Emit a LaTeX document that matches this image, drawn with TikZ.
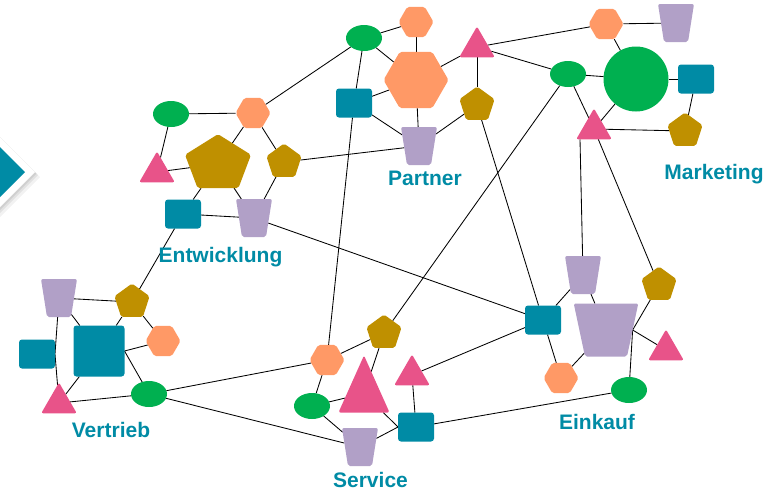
\documentclass[tikz,border=0pt]{standalone}
\usepackage{fontspec}
\setmainfont{Liberation Sans}
\usetikzlibrary{shapes.geometric,backgrounds}
\definecolor{cgreen}{RGB}{0,176,80}
\definecolor{corange}{RGB}{255,153,102}
\definecolor{cteal}{RGB}{0,139,165}
\definecolor{cpink}{RGB}{232,83,137}
\definecolor{cgold}{RGB}{191,144,0}
\definecolor{clav}{RGB}{177,160,199}
\begin{document}
\begin{tikzpicture}[x=1pt,y=-1pt,
 base/.style={inner sep=0pt, outer sep=0pt},
 ell/.style={base, ellipse, fill=cgreen, minimum width=36pt, minimum height=26pt},
 hexa/.style={base, regular polygon, regular polygon sides=6, fill=corange, minimum size=35pt, rounded corners=2pt},
 penta/.style={base, regular polygon, regular polygon sides=5, fill=cgold, minimum size=37pt, rounded corners=2pt},
 tria/.style={base, regular polygon, regular polygon sides=3, fill=cpink, minimum size=41pt, rounded corners=2pt},
 sq/.style={base, rectangle, fill=cteal, minimum width=36pt, minimum height=29pt, rounded corners=3pt},
 trap/.style={base, trapezium, shape border rotate=180, trapezium left angle=81, trapezium right angle=81, fill=clav, inner xsep=12pt, inner ysep=19pt, rounded corners=2pt},
 lbl/.style={text=cteal, font=\fontsize{21}{25}\selectfont\bfseries, anchor=base},
 con/.style={draw=black, line width=0.85pt}
]
\useasboundingbox (0,0) rectangle (776,491);
% left decoration
\begin{scope}
\clip (0,0) rectangle (776,491);
\fill[black, opacity=0.05, shift={(5,5)}] (-28,109) -- (35,172) -- (-28,235) -- (-91,172) -- cycle;
\fill[black, opacity=0.07, shift={(3,3)}] (-28,109) -- (35,172) -- (-28,235) -- (-91,172) -- cycle;
\fill[black, opacity=0.08, shift={(1.5,1.5)}] (-28,109) -- (35,172) -- (-28,235) -- (-91,172) -- cycle;
\fill[white] (-28,109) -- (35,172) -- (-28,235) -- (-91,172) -- cycle;
\fill[cteal] (-28,119) -- (25,172) -- (-28,225) -- (-81,172) -- cycle;
\end{scope}

% Entwicklung
\node[ell] (eell) at (171,114) {};
\node[hexa] (ehex) at (253,113) {};
\node[tria] (etri) at (157,172) {};
\node[penta, minimum size=69.4pt, yscale=0.86] (epb) at (218,164) {};
\node[penta] (eps) at (284,162) {};
\node[sq] (esq) at (183,214) {};
\node[trap] (etrap) at (254,218) {};
% Partner
\node[ell] (pell) at (364,38) {};
\node[hexa] (phs) at (416,22) {};
\node[hexa, minimum size=65pt] (phb) at (416,80) {};
\node[sq] (psq) at (354,103) {};
\node[tria] (ptri) at (477,47) {};
\node[penta] (ppent) at (477,105) {};
\node[trap] (ptrap) at (419,146) {};
% Marketing
\node[hexa] (mhex) at (606,24) {};
\node[trap] (mtrap) at (676,23) {};
\node[ell] (mell) at (568,74) {};
\node[base, circle, fill=cgreen, minimum size=65pt] (mcirc) at (636,79) {};
\node[sq] (msq) at (696,79) {};
\node[tria] (mtri) at (594,129) {};
\node[penta] (mpent) at (685,131) {};
% Vertrieb
\node[trap] (vtrap) at (59,298) {};
\node[penta] (vpent) at (132,302) {};
\node[sq] (vsqs) at (37,354) {};
\node[sq, minimum width=51pt, minimum height=51pt] (vsqb) at (99,351) {};
\node[hexa] (vhex) at (163,341) {};
\node[tria] (vtri) at (59,403) {};
\node[ell] (vell) at (149,394) {};
% Service
\node[penta] (spent) at (384,333) {};
\node[hexa] (shex) at (327,360) {};
\node[tria, minimum size=59pt, yscale=1.29] (stb) at (364,393.5) {};
\node[tria] (sts) at (412,375) {};
\node[ell] (sell) at (312,406) {};
\node[trap] (strap) at (360,447) {};
\node[sq] (ssq) at (416,427) {};
% Einkauf
\node[trap] (kts) at (583,275) {};
\node[penta] (kpent) at (659,285) {};
\node[sq] (ksq) at (543,320) {};
\node[trap, inner xsep=21pt, inner ysep=26.5pt, trapezium left angle=78, trapezium right angle=78] (ktb) at (606,330) {};
\node[tria] (ktri) at (666,350) {};
\node[hexa] (khex) at (561,378) {};
\node[ell] (kell) at (629,390) {};

% labels
\node[lbl] (lent) at (220.5,262) {Entwicklung};
\node[lbl] (lpar) at (425,185) {Partner};
\node[lbl] (lmar) at (714,179) {Marketing};
\node[lbl] (lver) at (111,437) {Vertrieb};
\node[lbl] (lser) at (370.5,487) {Service};
\node[lbl] (lein) at (597,429) {Einkauf};

\begin{pgfonlayer}{background}
\draw[con] (eell) -- (ehex);
\draw[con] (eell) -- (etri);
\draw[con] (ehex) -- (pell);
\draw[con] (ehex) -- (epb);
\draw[con] (ehex) -- (eps);
\draw[con] (etri) -- (epb);
\draw[con] (epb) -- (esq);
\draw[con] (epb) -- (etrap);
\draw[con] (eps) -- (etrap);
\draw[con] (eps) -- (ptrap);
\draw[con] (esq) -- (etrap);
\draw[con] (etrap) -- (ksq);
\draw[con] (esq) -- (vpent);
\draw[con] (pell) -- (phs);
\draw[con] (pell) -- (phb);
\draw[con] (pell) -- (psq);
\draw[con] (phs) -- (phb);
\draw[con] (phb) -- (psq);
\draw[con] (phb) -- (ptrap);
\draw[con] (phb) -- (ptri);
\draw[con] (psq) -- (ptrap);
\draw[con] (psq) -- (shex);
\draw[con] (ptri) -- (ppent);
\draw[con] (ptri) -- (mhex);
\draw[con] (ptri) -- (mell);
\draw[con] (ppent) -- (ptrap);
\draw[con] (ppent) -- (ksq);
\draw[con] (mell) -- (spent);
\draw[con] (mhex) -- (mtrap);
\draw[con] (mhex) -- (mcirc);
\draw[con] (mell) -- (mcirc);
\draw[con] (mell) -- (mtri);
\draw[con] (mcirc) -- (mtri);
\draw[con] (mcirc) -- (msq);
\draw[con] (msq) -- (mpent);
\draw[con] (mtri) -- (mpent);
\draw[con] ([xshift=-14pt]mtri.south) -- (kts);
\draw[con] (mtri) -- (kpent);
\draw[con] (kts) -- (ksq);
\draw[con] (kts) -- (ktb);
\draw[con] (ksq) -- (khex);
\draw[con] (ktb) -- (khex);
\draw[con] (ktb.east) -- (kpent);
\draw[con] (ktb.east) -- (ktri);
\draw[con] (ktb.east) -- (kell);
\draw[con] (ksq) -- (sts);
\draw[con] (kell) -- (ssq);
\draw[con] (spent) -- (shex);
\draw[con] (spent) -- (stb);
\draw[con] (shex) -- (sell);
\draw[con] (shex) -- (vell);
\draw[con] (stb) -- (sell);
\draw[con] (sell) -- (strap);
\draw[con] (stb) -- (ssq.west);
\draw[con] (strap) -- (ssq.west);
\draw[con] (sts) -- (ssq);
\draw[con] (vell) -- (strap);
\draw[con] (vtrap) -- (vpent);
\draw[con] (vpent) -- (vsqb);
\draw[con] (vpent) -- (vhex);
\draw[con] (vtrap) -- (vsqb);
\draw[con] (vtrap) -- (vsqs.east) -- (vtri);
\draw[con] (vsqb) -- (vtri);
\draw[con] (vsqb.east) -- (vhex);
\draw[con] (vsqb.east) -- (vell);
\draw[con] (vtri) -- (vell);
\end{pgfonlayer}
\end{tikzpicture}
\end{document}
